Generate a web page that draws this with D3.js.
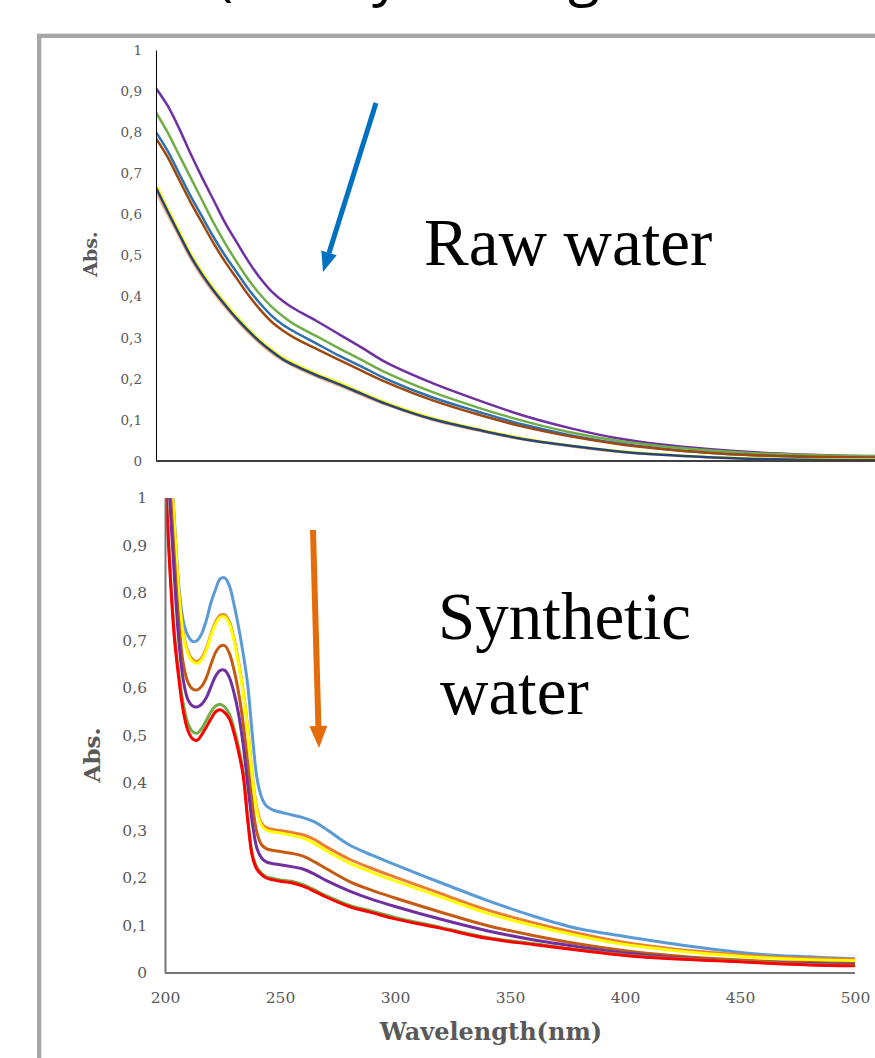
<!DOCTYPE html>
<html>
<head>
<meta charset="utf-8">
<script src="https://cdn.jsdelivr.net/npm/d3@7"></script>
<style>
  html, body { margin: 0; padding: 0; background: #fff; }
  svg { display: block; }
  .tick text { fill: #595959; font-family: "DejaVu Serif", serif; }
</style>
</head>
<body>
<div id="chart"></div>
<script>
// ---- data ----
// top panel: raw water spectra
const rawWl = [200, 205, 210, 215, 220, 225, 230, 235, 240, 245, 250, 255, 260, 270, 280, 290, 300, 320, 340, 360, 380, 400, 420, 440, 460, 480, 500, 520];
const rawPurple = [0.907, 0.865, 0.81, 0.748, 0.69, 0.635, 0.58, 0.533, 0.487, 0.447, 0.414, 0.39, 0.371, 0.34, 0.307, 0.274, 0.24, 0.19, 0.148, 0.11, 0.08, 0.056, 0.04, 0.029, 0.021, 0.016, 0.013, 0.012];
const rawGreen = [0.848, 0.80, 0.745, 0.69, 0.635, 0.58, 0.53, 0.485, 0.443, 0.407, 0.377, 0.353, 0.333, 0.303, 0.273, 0.244, 0.215, 0.168, 0.13, 0.097, 0.07, 0.05, 0.036, 0.026, 0.019, 0.015, 0.012, 0.011];
const rawBlue = [0.80, 0.755, 0.70, 0.645, 0.595, 0.545, 0.50, 0.46, 0.42, 0.385, 0.355, 0.332, 0.315, 0.285, 0.255, 0.228, 0.20, 0.155, 0.12, 0.088, 0.063, 0.044, 0.03, 0.02, 0.014, 0.01, 0.008, 0.007];
const rawBrown = [0.785, 0.74, 0.685, 0.63, 0.58, 0.53, 0.485, 0.445, 0.405, 0.37, 0.34, 0.318, 0.30, 0.272, 0.245, 0.218, 0.192, 0.148, 0.113, 0.083, 0.06, 0.042, 0.029, 0.02, 0.014, 0.011, 0.009, 0.008];
const rawPeach = [0.655, 0.60, 0.547, 0.493, 0.448, 0.41, 0.375, 0.343, 0.313, 0.287, 0.264, 0.245, 0.23, 0.205, 0.183, 0.159, 0.137, 0.10, 0.074, 0.052, 0.036, 0.023, 0.015, 0.009, 0.005, 0.004, 0.003, 0.003];
const rawYellow = [0.672, 0.615, 0.56, 0.505, 0.46, 0.42, 0.385, 0.352, 0.322, 0.295, 0.272, 0.252, 0.237, 0.212, 0.19, 0.165, 0.142, 0.105, 0.078, 0.055, 0.038, 0.025, 0.016, 0.01, 0.006, 0.004, 0.003, 0.003];
const rawNavy = [0.665, 0.608, 0.553, 0.499, 0.454, 0.415, 0.38, 0.347, 0.318, 0.291, 0.268, 0.248, 0.233, 0.208, 0.186, 0.162, 0.139, 0.102, 0.076, 0.053, 0.037, 0.024, 0.015, 0.009, 0.005, 0.003, 0.002, 0.002];

// bottom panel: synthetic water spectra
const synWl = [200, 202, 204, 206, 208, 210, 212, 214, 216, 218, 220, 222, 224, 226, 228, 230, 232, 234, 236, 238, 240, 242, 244, 247, 250, 255, 260, 265, 270, 280, 290, 300, 320, 340, 360, 380, 400, 420, 440, 460, 480, 500];
const synLightBlue = [1.3, 1.12, 0.96, 0.815, 0.74, 0.71, 0.698, 0.70, 0.715, 0.743, 0.78, 0.808, 0.83, 0.832, 0.815, 0.776, 0.728, 0.672, 0.605, 0.50, 0.41, 0.37, 0.352, 0.343, 0.339, 0.333, 0.327, 0.318, 0.303, 0.27, 0.248, 0.228, 0.19, 0.153, 0.12, 0.093, 0.077, 0.062, 0.049, 0.039, 0.034, 0.03];
const synOrange = [1.28, 1.1, 0.952, 0.804, 0.714, 0.676, 0.66, 0.656, 0.664, 0.684, 0.714, 0.739, 0.753, 0.754, 0.739, 0.704, 0.654, 0.594, 0.514, 0.415, 0.345, 0.315, 0.306, 0.302, 0.30, 0.296, 0.291, 0.281, 0.266, 0.24, 0.22, 0.202, 0.167, 0.133, 0.106, 0.083, 0.064, 0.051, 0.042, 0.035, 0.031, 0.029];
const synYellow = [1.28, 1.1, 0.95, 0.80, 0.71, 0.672, 0.656, 0.652, 0.66, 0.68, 0.71, 0.735, 0.749, 0.75, 0.735, 0.70, 0.65, 0.59, 0.51, 0.41, 0.34, 0.31, 0.301, 0.297, 0.295, 0.29, 0.284, 0.273, 0.258, 0.232, 0.212, 0.194, 0.16, 0.126, 0.10, 0.078, 0.06, 0.048, 0.039, 0.032, 0.028, 0.026];
const synBrown = [1.24, 1.04, 0.88, 0.74, 0.65, 0.612, 0.598, 0.596, 0.604, 0.622, 0.65, 0.675, 0.688, 0.689, 0.673, 0.638, 0.59, 0.525, 0.44, 0.355, 0.295, 0.27, 0.262, 0.258, 0.256, 0.252, 0.246, 0.234, 0.22, 0.193, 0.174, 0.158, 0.128, 0.10, 0.079, 0.061, 0.047, 0.037, 0.03, 0.025, 0.022, 0.02];
const synPurple = [1.2, 1.0, 0.84, 0.70, 0.615, 0.575, 0.562, 0.56, 0.566, 0.58, 0.603, 0.625, 0.637, 0.637, 0.622, 0.59, 0.545, 0.48, 0.395, 0.315, 0.262, 0.242, 0.234, 0.23, 0.228, 0.224, 0.219, 0.208, 0.195, 0.173, 0.155, 0.14, 0.113, 0.089, 0.07, 0.055, 0.042, 0.033, 0.027, 0.022, 0.02, 0.018];
const synGreen = [1.07, 0.87, 0.72, 0.63, 0.565, 0.525, 0.508, 0.505, 0.515, 0.532, 0.55, 0.562, 0.566, 0.56, 0.545, 0.515, 0.475, 0.423, 0.325, 0.25, 0.222, 0.21, 0.203, 0.199, 0.196, 0.193, 0.186, 0.175, 0.163, 0.143, 0.13, 0.117, 0.096, 0.075, 0.062, 0.049, 0.038, 0.031, 0.027, 0.022, 0.018, 0.016];
const synRed = [1.06, 0.86, 0.71, 0.62, 0.55, 0.51, 0.493, 0.49, 0.502, 0.518, 0.535, 0.55, 0.554, 0.548, 0.535, 0.505, 0.465, 0.415, 0.32, 0.245, 0.218, 0.207, 0.20, 0.196, 0.193, 0.19, 0.183, 0.172, 0.16, 0.14, 0.127, 0.114, 0.094, 0.073, 0.06, 0.048, 0.037, 0.03, 0.026, 0.021, 0.017, 0.015];

// ticks
const absTicks = [0, 0.1, 0.2, 0.3, 0.4, 0.5, 0.6, 0.7, 0.8, 0.9, 1];
const wlTicks = [200, 250, 300, 350, 400, 450, 500];

// series in drawing order (last one on top)
const rawSeries = [
    { values: rawPurple, color: '#7030a0' },
    { values: rawGreen, color: '#70ad47' },
    { values: rawBlue, color: '#2e6fae' },
    { values: rawBrown, color: '#9e480e' },
    { values: rawPeach, color: '#f4b183' },
    { values: rawYellow, color: '#ffff00' },
    { values: rawNavy, color: '#264478' }
];
const synSeries = [
    { values: synLightBlue, color: '#5b9bd5' },
    { values: synOrange, color: '#ed7d31' },
    { values: synYellow, color: '#ffff00' },
    { values: synBrown, color: '#c55a11' },
    { values: synPurple, color: '#7030a0' },
    { values: synGreen, color: '#70ad47' },
    { values: synRed, color: '#ff0000' }
];

const W = 875, H = 1058;
const svg = d3.select('#chart').append('svg')
    .attr('width', W)
    .attr('height', H)
    .style('background', '#fff');

// title of the slide above the frame, cut by the top edge (only descenders visible)
const titleBits = [['(', 216], ['y', 372], ['g', 568]];
titleBits.forEach(([t, x]) => {
    svg.append('text')
        .attr('x', x).attr('y', -6)
        .attr('font-family', '"Open Sans", sans-serif')
        .attr('font-size', 58)
        .attr('fill', '#000')
        .text(t);
});

// grey frame around the figure
svg.append('rect').attr('x', 36).attr('y', 33).attr('width', W).attr('height', 1).attr('fill', '#e4e4e4');
svg.append('rect').attr('x', 37).attr('y', 34).attr('width', W).attr('height', 4).attr('fill', '#a6a6a6');
svg.append('rect').attr('x', 37).attr('y', 34).attr('width', 4).attr('height', H).attr('fill', '#a6a6a6');
svg.append('rect').attr('x', 41).attr('y', 38).attr('width', 1).attr('height', H).attr('fill', '#e4e4e4');

const defs = svg.append('defs');

/**
 * Draw one absorbance panel
 */
function drawPanel(cfg) {
    const { x, y, wl, series, id } = cfg;

    defs.append('clipPath').attr('id', id)
        .append('rect')
        .attr('x', x.range()[0])
        .attr('y', y.range()[1])
        .attr('width', W - x.range()[0])
        .attr('height', y.range()[0] - y.range()[1]);

    const line = d3.line()
        .x((d, i) => x(wl[i]))
        .y(d => y(d))
        .curve(d3.curveCatmullRom.alpha(0.5));

    const g = svg.append('g').attr('clip-path', `url(#${id})`);
    series.forEach(s => {
        g.append('path')
            .attr('d', line(s.values))
            .attr('fill', 'none')
            .attr('stroke', s.color)
            .attr('stroke-width', cfg.lineWidth)
            .attr('stroke-linejoin', 'round');
    });

    // y axis
    const yAxis = svg.append('g')
        .attr('transform', `translate(${x.range()[0]},0)`)
        .call(d3.axisLeft(y)
            .tickValues(absTicks)
            .tickSize(0)
            .tickSizeOuter(0)
            .tickPadding(cfg.yPad)
            .tickFormat(d => String(d).replace('.', ',')));
    yAxis.select('.domain').attr('stroke', cfg.yAxisColor).attr('stroke-width', cfg.yAxisWidth);
    yAxis.selectAll('text').attr('font-size', cfg.tickSize);

    // x axis line
    svg.append('line')
        .attr('x1', x.range()[0]).attr('x2', cfg.xEnd)
        .attr('y1', y(0)).attr('y2', y(0))
        .attr('stroke', cfg.xAxisColor)
        .attr('stroke-width', 2);

    // y title
    svg.append('text')
        .attr('transform', `translate(${cfg.titleX},${cfg.titleY}) rotate(-90)`)
        .attr('text-anchor', 'middle')
        .attr('font-family', '"DejaVu Serif", serif')
        .attr('font-weight', 'bold')
        .attr('font-size', cfg.titleSize)
        .attr('fill', '#595959')
        .text('Abs.');
}

// top panel
const xTop = d3.scaleLinear().domain([200, 520]).range([156, 892]);
const yTop = d3.scaleLinear().domain([0, 1]).range([461, 50]);
drawPanel({
    id: 'clipTop', x: xTop, y: yTop, wl: rawWl, series: rawSeries,
    lineWidth: 2.5, yPad: 14, tickSize: 13.5, yAxisColor: '#000', yAxisWidth: 1,
    xAxisColor: '#404040', xEnd: W, titleX: 97, titleY: 254, titleSize: 19
});

// bottom panel
const xBot = d3.scaleLinear().domain([200, 500]).range([165, 855]);
const yBot = d3.scaleLinear().domain([0, 1]).range([973, 498]);
drawPanel({
    id: 'clipBot', x: xBot, y: yBot, wl: synWl, series: synSeries,
    lineWidth: 3, yPad: 18, tickSize: 15.5, yAxisColor: '#767676', yAxisWidth: 2,
    xAxisColor: '#767676', xEnd: 855, titleX: 100, titleY: 755, titleSize: 23
});

const xAxis = svg.append('g')
    .attr('transform', `translate(0,${yBot(0)})`)
    .call(d3.axisBottom(xBot).tickValues(wlTicks).tickSize(0).tickPadding(19));
xAxis.select('.domain').remove();
xAxis.selectAll('text').attr('font-size', 15.5);

svg.append('text')
    .attr('x', 491).attr('y', 1040)
    .attr('text-anchor', 'middle')
    .attr('font-family', '"DejaVu Serif", serif')
    .attr('font-weight', 'bold')
    .attr('font-size', 24)
    .attr('fill', '#595959')
    .text('Wavelength(nm)');

// annotations
const arrows = [
    { x1: 376, y1: 103, x2: 323, y2: 272, color: '#0070c0', w: 5, head: 20, hw: 8 },
    { x1: 313, y1: 530, x2: 319, y2: 748, color: '#e46c0a', w: 6, head: 22, hw: 9 }
];
arrows.forEach(a => {
    const ang = Math.atan2(a.y2 - a.y1, a.x2 - a.x1);
    const bx = a.x2 - a.head * Math.cos(ang), by = a.y2 - a.head * Math.sin(ang);
    const px = -Math.sin(ang) * a.hw, py = Math.cos(ang) * a.hw;
    svg.append('line')
        .attr('x1', a.x1).attr('y1', a.y1).attr('x2', bx).attr('y2', by)
        .attr('stroke', a.color).attr('stroke-width', a.w);
    svg.append('path')
        .attr('d', `M${a.x2},${a.y2}L${bx + px},${by + py}L${bx - px},${by - py}Z`)
        .attr('fill', a.color);
});

const labels = [
    { text: 'Raw water', x: 424, y: 265 },
    { text: 'Synthetic', x: 438, y: 639 },
    { text: 'water', x: 440, y: 714 }
];
labels.forEach(l => {
    svg.append('text')
        .attr('x', l.x).attr('y', l.y)
        .attr('font-family', '"Liberation Serif", serif')
        .attr('font-size', 67)
        .attr('fill', '#000')
        .text(l.text);
});
</script>
</body>
</html>
